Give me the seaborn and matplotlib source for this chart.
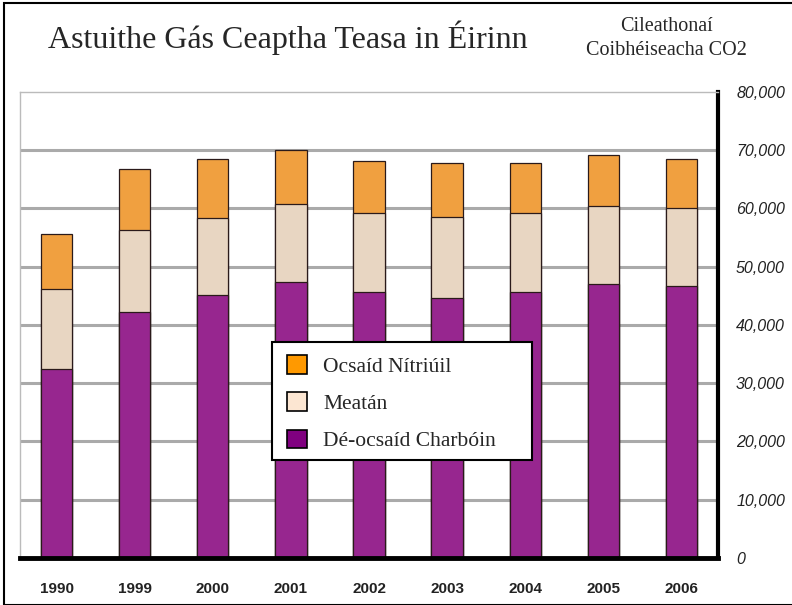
import matplotlib
matplotlib.use("Agg")
import matplotlib.pyplot as plt
from matplotlib.patches import Patch, Rectangle
import seaborn as sns
import pandas as pd
import numpy as np

years = ["1990", "1999", "2000", "2001", "2002", "2003", "2004", "2005", "2006"]
co2 = [32500, 42200, 45100, 47400, 45600, 44600, 45600, 47100, 46700]
methane = [13700, 14100, 13300, 13300, 13600, 13900, 13600, 13300, 13400]
n2o = [9500, 10400, 10100, 9400, 8900, 9300, 8600, 8800, 8400]
y_ticks = [0, 10000, 20000, 30000, 40000, 50000, 60000, 70000, 80000]

df = pd.DataFrame({"year": years, "co2": co2, "ch4": methane, "n2o": n2o})
df["ch4_top"] = df["co2"] + df["ch4"]
df["total"] = df["ch4_top"] + df["n2o"]

sns.set_theme(style="white")
plt.rcParams["font.family"] = ["Liberation Sans", "DejaVu Sans"]

fig = plt.figure(figsize=(7.92, 6.05), dpi=100)
ax = fig.add_axes([0.0253, 0.0777, 0.8813, 0.7703])

# gridlines first
for t in y_ticks[1:-1]:
    ax.axhline(t, color="#aaaaaa", lw=2.2, zorder=0)

edge = dict(edgecolor="#2a1a1a", linewidth=0.9)
sns.barplot(data=df, x="year", y="total", color="#f0a040", width=0.4, saturation=1, ax=ax, zorder=2, **edge)
sns.barplot(data=df, x="year", y="ch4_top", color="#e8d6c2", width=0.4, saturation=1, ax=ax, zorder=3, **edge)
sns.barplot(data=df, x="year", y="co2", color="#97268f", width=0.4, saturation=1, ax=ax, zorder=4, **edge)

ax.set_xlim(-0.47, len(years) - 0.53)
ax.set_ylim(0, 80000)
ax.set_xlabel("")
ax.set_ylabel("")
ax.yaxis.tick_right()
ax.set_yticks(y_ticks)
ax.set_yticklabels([f"{v:,}" for v in y_ticks], fontsize=11.5, style="italic", color="#222222")
ax.tick_params(axis="y", length=0, pad=13)
ax.tick_params(axis="x", length=0, pad=17)
for lab in ax.get_xticklabels():
    lab.set_fontsize(11)
    lab.set_fontweight("bold")
    lab.set_color("#222222")

ax.spines["top"].set_color("#bbbbbb")
ax.spines["top"].set_linewidth(1)
ax.spines["left"].set_color("#bbbbbb")
ax.spines["left"].set_linewidth(1)
ax.spines["right"].set_color("black")
ax.spines["right"].set_linewidth(3)
ax.spines["bottom"].set_color("black")
ax.spines["bottom"].set_linewidth(3.5)
for s in ax.spines.values():
    s.set_visible(True)
    s.set_zorder(6)

# titles
fig.text(0.061, 0.937, "Astuithe Gás Ceaptha Teasa in Éirinn", fontsize=23,
         family="Liberation Serif", va="center", ha="left")
fig.text(0.841, 0.956, "Cileathonaí", fontsize=14.5, family="Liberation Serif",
         va="center", ha="center")
fig.text(0.841, 0.917, "Coibhéiseacha CO2", fontsize=14.5, family="Liberation Serif",
         va="center", ha="center")

# legend: white box drawn separately so its size matches the original
fig.patches.append(Rectangle((0.3434, 0.2397), 0.3283, 0.195, transform=fig.transFigure,
                             facecolor="white", edgecolor="black", linewidth=1.5, zorder=9))
handles = [
    Patch(facecolor="#ff9900", edgecolor="black", linewidth=1.2, label="Ocsaíd Nítriúil"),
    Patch(facecolor="#fce6d2", edgecolor="black", linewidth=1.2, label="Meatán"),
    Patch(facecolor="#800080", edgecolor="black", linewidth=1.2, label="Dé-ocsaíd Charbóin"),
]
leg = fig.legend(handles=handles, loc="upper left", bbox_to_anchor=(0.362, 0.413),
                 prop={"family": "Liberation Serif", "size": 15.5}, frameon=False,
                 handlelength=0.95, handleheight=0.95, handletextpad=0.75,
                 labelspacing=0.72, borderpad=0, borderaxespad=0)
leg.set_zorder(10)

# outer frame
fig.patches.append(Rectangle((0.005, 0.0), 1.2, 0.995, transform=fig.transFigure,
                             fill=False, edgecolor="black", linewidth=1.5))

fig.savefig("out.png", dpi=100)
